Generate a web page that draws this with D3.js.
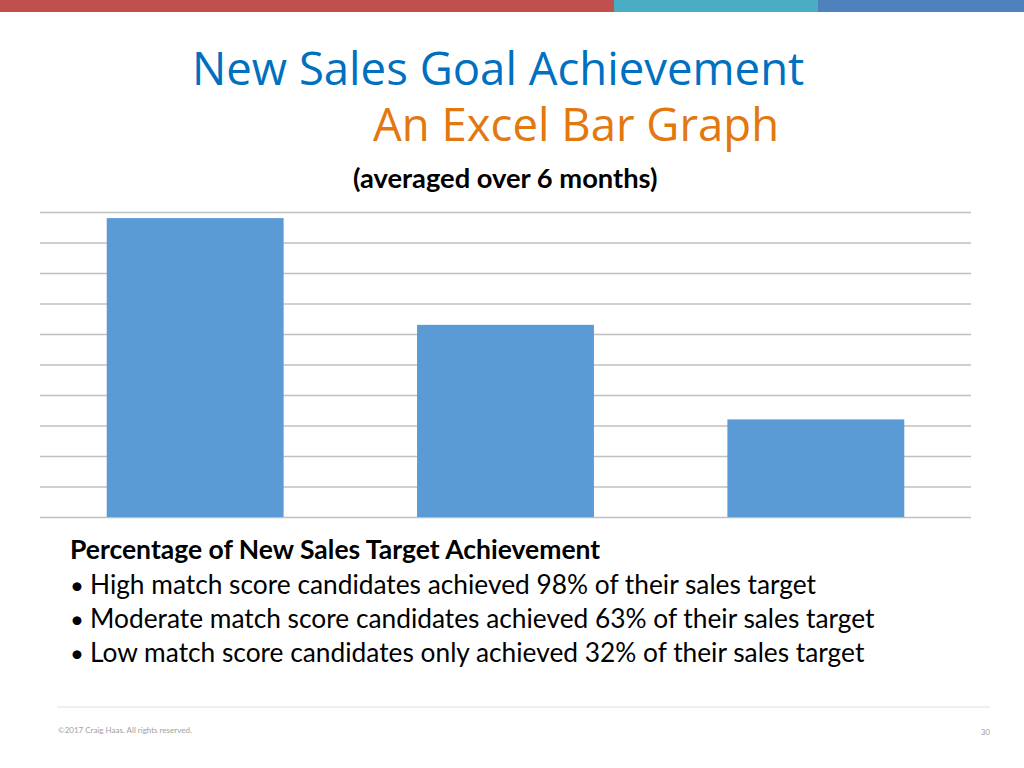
<!DOCTYPE html>
<html>
  <head>
    <title>New Sales Goal Achievement</title>
    <style>
      body { margin: 0; background: #fff; }
      .grid line { stroke: #c0c0c0; stroke-width: 1.3; }
      .grid path { display: none; }
    </style>
    <script src="https://unpkg.com/d3@7/dist/d3.min.js"></script>
  </head>
  <body>
    <script>
      // data
      const categories = ['High match score', 'Moderate match score', 'Low match score'];
      const achieved = [0.98, 0.63, 0.32];
      const yTicks = [0, 0.1, 0.2, 0.3, 0.4, 0.5, 0.6, 0.7, 0.8, 0.9, 1.0];
      const bandColors = ['#c0504d', '#4bacc6', '#4f81bd'];
      const bandStops = [0, 614, 818, 1024];
      const bullets = [
        'High match score candidates achieved 98% of their sales target',
        'Moderate match score candidates achieved 63% of their sales target',
        'Low match score candidates only achieved 32% of their sales target'
      ];

      const width = 1024, height = 768;
      const svg = d3.select('body').append('svg')
        .attr('width', width).attr('height', height);

      // top colour strip
      svg.selectAll('rect.strip')
        .data(bandColors)
        .join('rect')
        .attr('class', 'strip')
        .attr('x', (d, i) => bandStops[i])
        .attr('y', 0)
        .attr('width', (d, i) => bandStops[i + 1] - bandStops[i])
        .attr('height', 12)
        .attr('fill', d => d);

      // titles
      svg.append('text')
        .attr('x', 192).attr('y', 85)
        .attr('fill', '#0070c0')
        .style('font', '45.5px "Open Sans"')
        .text('New Sales Goal Achievement');
      svg.append('text')
        .attr('x', 373).attr('y', 141)
        .attr('fill', '#e3780f')
        .style('font', '45.5px "Open Sans"')
        .text('An Excel Bar Graph');
      svg.append('text')
        .attr('x', 353).attr('y', 188)
        .attr('fill', '#000')
        .style('font', 'bold 27.3px Lato')
        .text('(averaged over 6 months)');

      // chart
      const margin = {left: 40, right: 971, top: 212, bottom: 517};
      const x = d3.scaleBand().domain(categories)
        .range([margin.left, margin.right]).paddingInner(0.43).paddingOuter(0.215);
      const y = d3.scaleLinear().domain([0, 1]).range([margin.bottom, margin.top]);

      svg.append('g').attr('class', 'grid')
        .attr('transform', `translate(${margin.left},0)`)
        .call(d3.axisLeft(y).tickValues(yTicks).tickSize(-(margin.right - margin.left)).tickFormat(''));

      svg.selectAll('rect.bar')
        .data(achieved)
        .join('rect')
        .attr('class', 'bar')
        .attr('x', (d, i) => x(categories[i]))
        .attr('y', d => y(d))
        .attr('width', x.bandwidth())
        .attr('height', d => y(0) - y(d))
        .attr('fill', '#5b9bd5');

      // notes under the chart
      svg.append('text')
        .attr('x', 70).attr('y', 559)
        .style('font', 'bold 26.5px Lato')
        .text('Percentage of New Sales Target Achievement');

      const notes = svg.selectAll('g.note')
        .data(bullets)
        .join('g')
        .attr('class', 'note')
        .attr('transform', (d, i) => `translate(0,${594 + i * 34})`);
      notes.append('text')
        .attr('x', 70)
        .style('font', '24px Lato')
        .text('\u2022');
      notes.append('text')
        .attr('x', 90)
        .style('font', '26.3px Lato')
        .text(d => d);

      // footer
      svg.append('line')
        .attr('x1', 57).attr('x2', 990).attr('y1', 707).attr('y2', 707)
        .attr('stroke', '#e0e0e0').attr('stroke-width', 1);
      svg.append('text')
        .attr('x', 58).attr('y', 733)
        .attr('fill', '#a0a0a0')
        .style('font', '8px Lato')
        .text('\u00a92017 Craig Haas. All rights reserved.');
      svg.append('text')
        .attr('x', 990).attr('y', 735)
        .attr('text-anchor', 'end')
        .attr('fill', '#a0a0a0')
        .style('font', '8px Lato')
        .text('30');
    </script>
  </body>
</html>
